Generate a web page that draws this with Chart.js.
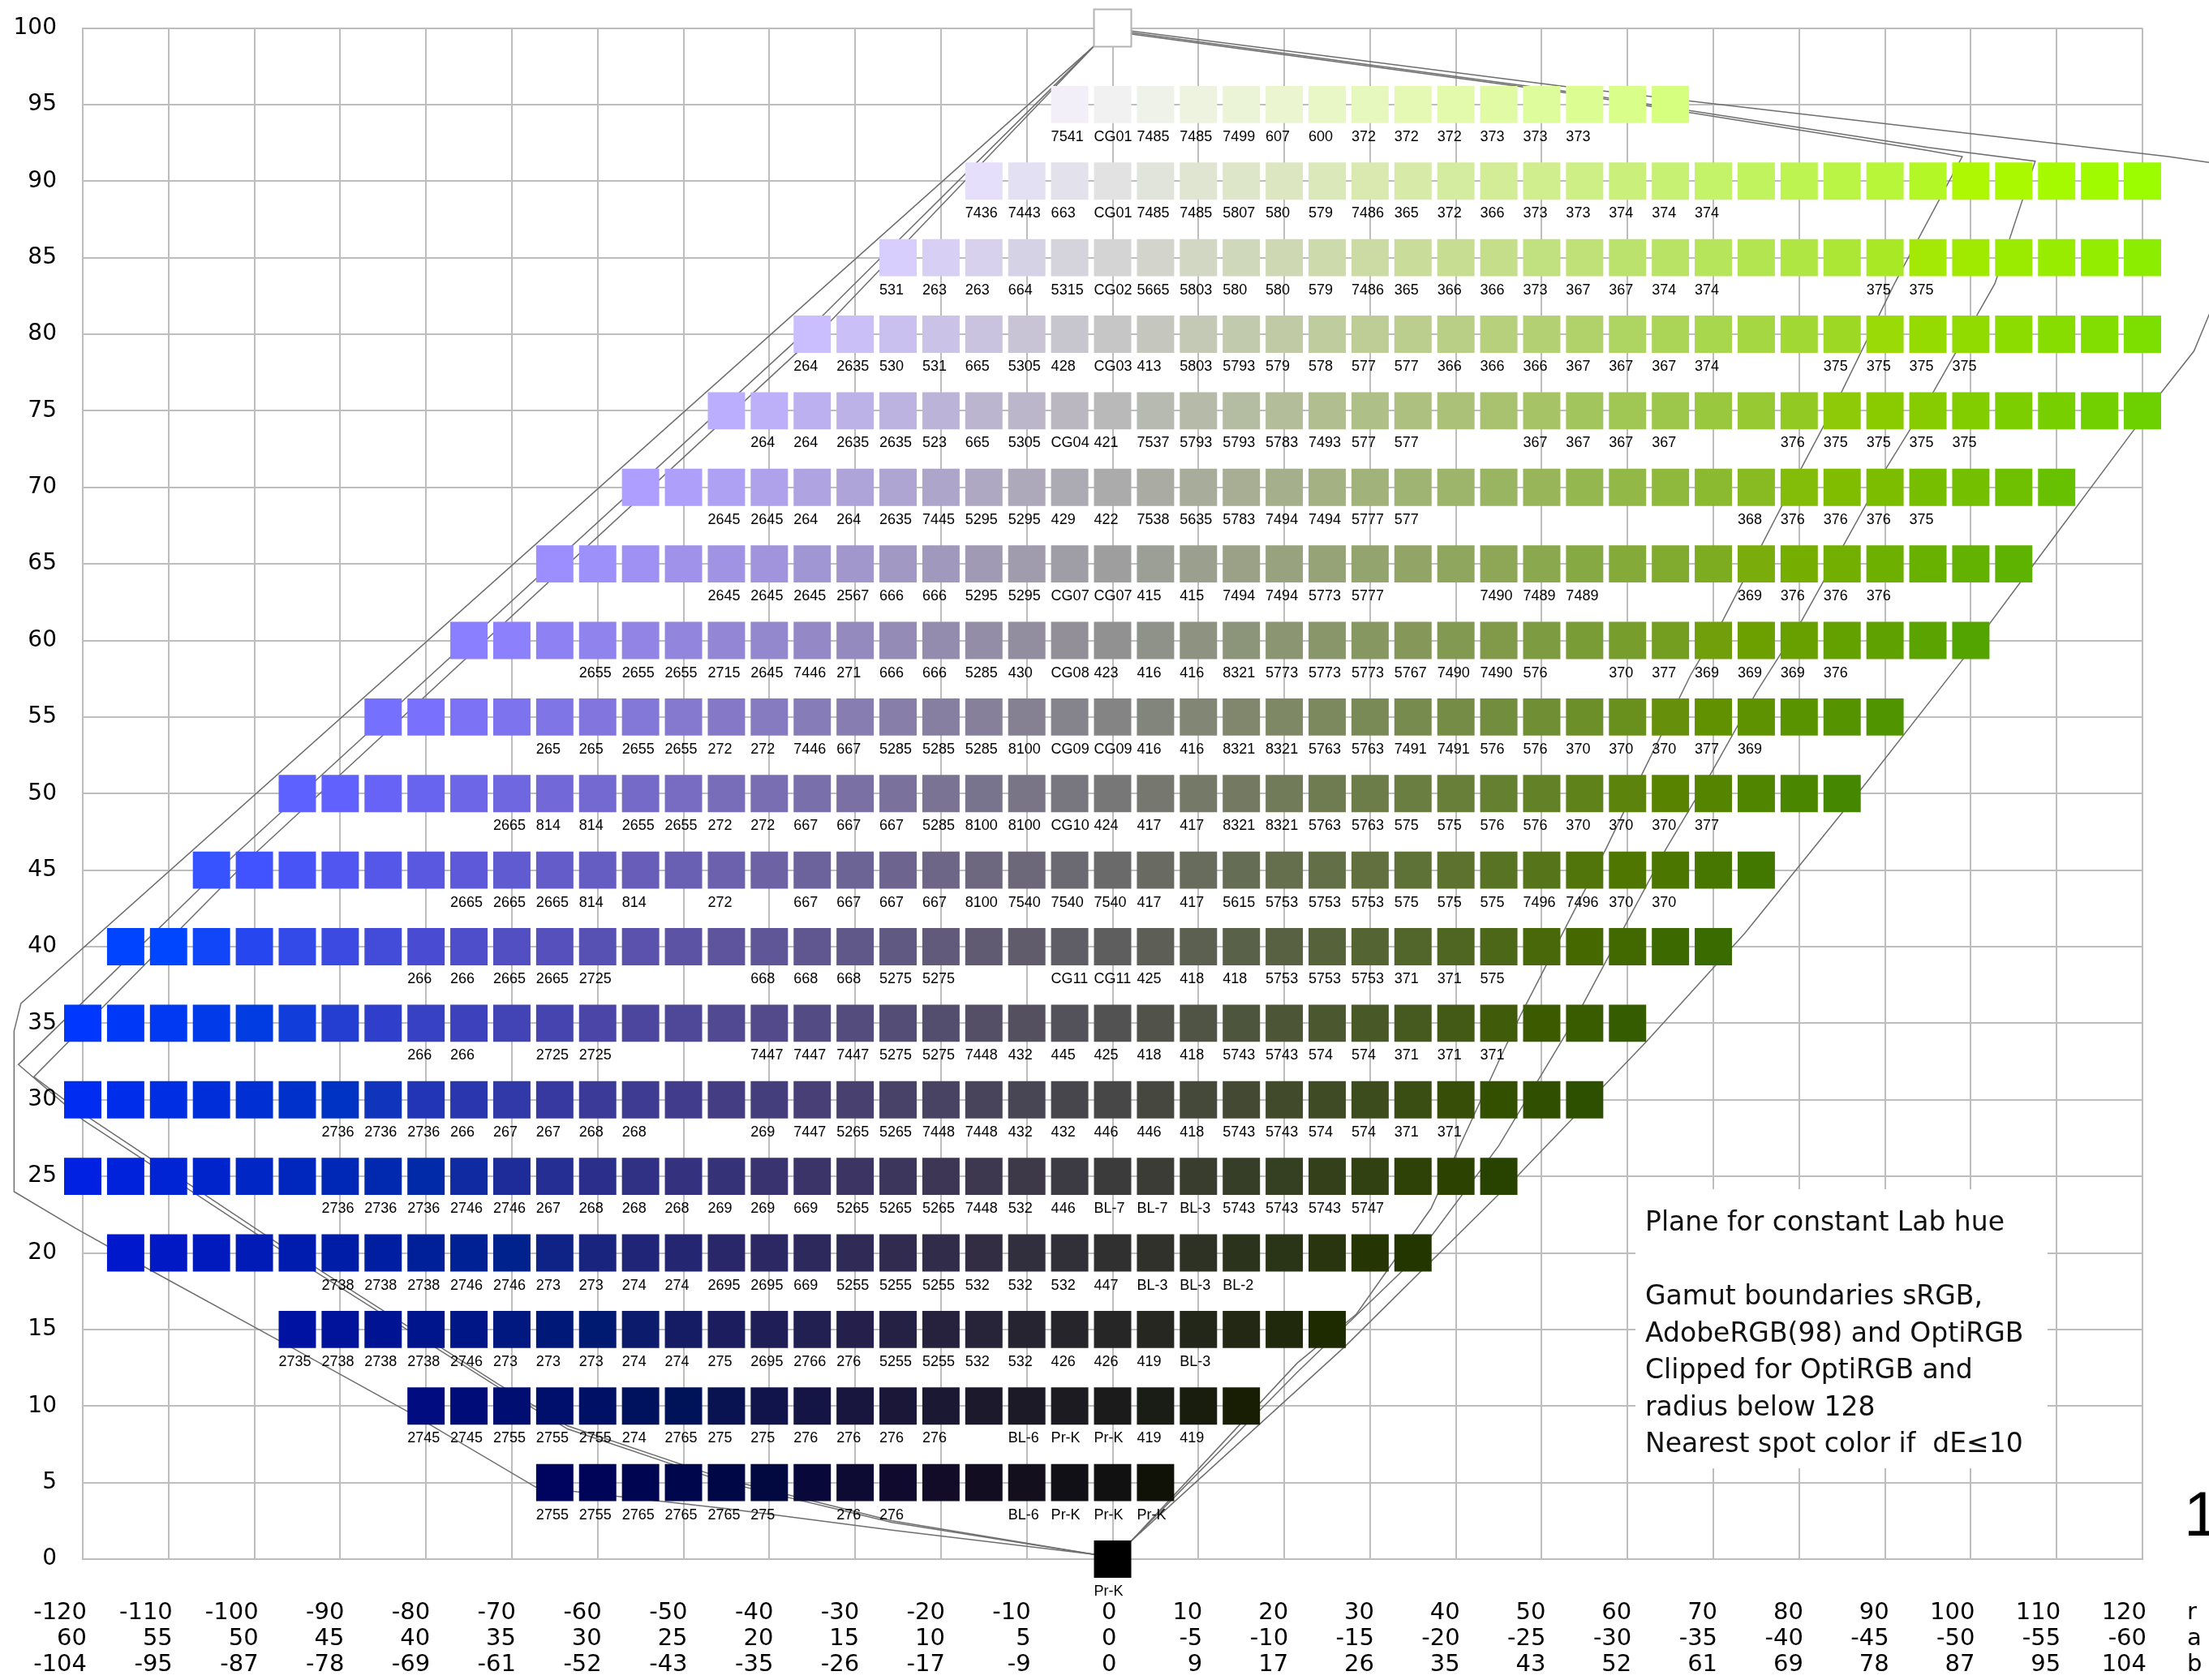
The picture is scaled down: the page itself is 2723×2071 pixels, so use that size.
<!DOCTYPE html>
<html>
<head>
<meta charset="utf-8">
<script src="https://cdn.jsdelivr.net/npm/chart.js@4.4.1/dist/chart.umd.min.js"></script>
<style>
  html,body{margin:0;padding:0;background:#fff}
  #wrap{width:2723px;height:2071px}
</style>
</head>
<body>
<div id="wrap"><canvas id="c" width="2723" height="2071"></canvas></div>
<script>
// ---- rows of the constant-hue plane (L, first and last r of each row) ----
const rowL    = [95, 90, 85, 80, 75, 70, 65, 60, 55, 50, 45, 40, 35, 30, 25, 20, 15, 10, 5];
const rowFrom = [-5,-15,-25,-35,-45,-55,-65,-75,-85,-95,-105,-115,-125,-125,-125,-115,-95,-80,-65];
const rowTo   = [65,125,125,125,120,110,105,100, 90, 85, 75, 70, 60, 55, 45, 35, 25, 15, 5];

// spot colour names under each square, starting at rowFrom ('' = none)
const spot95 = ['7541','CG01','7485','7485','7499','607','600','372','372','372','373','373','373'];
const spot90 = ['7436','7443','663','CG01','7485','7485','5807','580','579','7486','365','372','366','373','373','374','374','374'];
const spot85 = ['531','263','263','664','5315','CG02','5665','5803','580','580','579','7486','365','366','366','373','367','367','374','374','','','','375','375'];
const spot80 = ['264','2635','530','531','665','5305','428','CG03','413','5803','5793','579','578','577','577','366','366','366','367','367','367','374','','','375','375','375','375'];
const spot75 = ['','264','264','2635','2635','523','665','5305','CG04','421','7537','5793','5793','5783','7493','577','577','','','367','367','367','367','','','376','375','375','375','375'];
const spot70 = ['','','2645','2645','264','264','2635','7445','5295','5295','429','422','7538','5635','5783','7494','7494','5777','577','','','','','','','','368','376','376','376','375'];
const spot65 = ['','','','','2645','2645','2645','2567','666','666','5295','5295','CG07','CG07','415','415','7494','7494','5773','5777','','','7490','7489','7489','','','','369','376','376','376'];
const spot60 = ['','','','2655','2655','2655','2715','2645','7446','271','666','666','5285','430','CG08','423','416','416','8321','5773','5773','5773','5767','7490','7490','576','','370','377','369','369','369','376'];
const spot55 = ['','','','','265','265','2655','2655','272','272','7446','667','5285','5285','5285','8100','CG09','CG09','416','416','8321','8321','5763','5763','7491','7491','576','576','370','370','370','377','369'];
const spot50 = ['','','','','','2665','814','814','2655','2655','272','272','667','667','667','5285','8100','8100','CG10','424','417','417','8321','8321','5763','5763','575','575','576','576','370','370','370','377'];
const spot45 = ['','','','','','','2665','2665','2665','814','814','','272','','667','667','667','667','8100','7540','7540','7540','417','417','5615','5753','5753','5753','575','575','575','7496','7496','370','370'];
const spot40 = ['','','','','','','','266','266','2665','2665','2725','','','','668','668','668','5275','5275','','','CG11','CG11','425','418','418','5753','5753','5753','371','371','575'];
const spot35 = ['','','','','','','','','','266','266','','2725','2725','','','','7447','7447','7447','5275','5275','7448','432','445','425','418','418','5743','5743','574','574','371','371','371'];
const spot30 = ['','','','','','','','2736','2736','2736','266','267','267','268','268','','','269','7447','5265','5265','7448','7448','432','432','446','446','418','5743','5743','574','574','371','371'];
const spot25 = ['','','','','','','','2736','2736','2736','2746','2746','267','268','268','268','269','269','669','5265','5265','5265','7448','532','446','BL-7','BL-7','BL-3','5743','5743','5743','5747'];
const spot20 = ['','','','','','2738','2738','2738','2746','2746','273','273','274','274','2695','2695','669','5255','5255','5255','532','532','532','447','BL-3','BL-3','BL-2'];
const spot15 = ['2735','2738','2738','2738','2746','273','273','273','274','274','275','2695','2766','276','5255','5255','532','532','426','426','419','BL-3'];
const spot10 = ['2745','2745','2755','2755','2755','274','2765','275','275','276','276','276','276','','BL-6','Pr-K','Pr-K','419','419'];
const spot05 = ['2755','2755','2765','2765','2765','275','','276','276','','','BL-6','Pr-K','Pr-K','Pr-K'];
const spotRows = [spot95,spot90,spot85,spot80,spot75,spot70,spot65,spot60,spot55,spot50,spot45,spot40,spot35,spot30,spot25,spot20,spot15,spot10,spot05];

// white and black end points on the neutral axis
const endL = [100, 0];
const endR = [0, 0];
const endNames = ['', 'Pr-K'];

// axis tick labels: radius r and the matching Lab a, b
const tickR = ['-120','-110','-100','-90','-80','-70','-60','-50','-40','-30','-20','-10','0','10','20','30','40','50','60','70','80','90','100','110','120'];
const tickA = ['60','55','50','45','40','35','30','25','20','15','10','5','0','-5','-10','-15','-20','-25','-30','-35','-40','-45','-50','-55','-60'];
const tickB = ['-104','-95','-87','-78','-69','-61','-52','-43','-35','-26','-17','-9','0','9','17','26','35','43','52','61','69','78','87','95','104'];
const hueA = -0.5, hueB = 0.8660;   // a = r*hueA, b = r*hueB

// gamut boundary outlines (r, L)
const optiR = [2.2,52.4,123,128,128,126,122.2,119.2,107.5,99.4,87.1,73.7,62.2,47.3,27.1,2.2,-2.1,-25.7,-45,-67.2,-82,-97.2,-112.2,-120.8,-128,-128,-127.2,-2.2];
const optiL = [99.8,96.2,91.6,91.2,81.6,78.9,76.2,73.9,65.1,59,50.2,40.9,33.8,25.1,13.9,1.2,0.3,1.9,3.3,4.7,9.6,14.3,18.9,21.6,24.0,34.5,36.3,98.8];
const adobeR = [2.2,52.4,95,107.5,102.8,95.7,90.2,80.3,75,69.8,64.5,54.2,45,35,21.5,2.2,-2.1,-25.7,-45,-63.5,-71.5,-97.2,-120,-127.5,-102.3,-34.9,-2.2];
const adobeL = [99.7,95.9,92.2,91.3,83.3,76.3,71.3,61.3,56.6,51.4,46.4,35.6,27,19.5,12.2,1.2,0.3,2.4,5.0,8.5,11.2,20.3,28.7,32.3,46,80.6,98.8];
const srgbR = [2.2,52.4,95,99,91.1,85,80.3,71.1,67.4,61.8,57.5,47.6,45.3,37.1,28.4,21.5,2.2,-2.1,-25.7,-45,-63.5,-71.5,-97.2,-120,-125.7,-100.1,-33.3,-2.2];
const srgbL = [99.6,95.8,92.0,91.6,83.3,76.3,71.3,61.3,57.8,51.4,46.4,35.6,32.9,22.9,16.0,12.8,1.2,0.3,2.5,5.2,8.7,11.4,20.6,29.1,31.5,46,80.6,98.8];

const noteLines = ['Plane for constant Lab hue','','Gamut boundaries sRGB,','AdobeRGB(98) and OptiRGB','Clipped for OptiRGB and','radius below 128','Nearest spot color if  dE\u226410'];

// Lab -> clipped sRGB
function labColor(L, a, b) {
  const fy=(L+16)/116, fx=fy+a/500, fz=fy-b/200, e=216/24389, k=24389/27;
  const f3=t=>t*t*t>e?t*t*t:(116*t-16)/k;
  const X=0.95047*f3(fx), Y=L>k*e?fy*fy*fy:L/k, Z=1.08883*f3(fz);
  const lin=[3.2406*X-1.5372*Y-0.4986*Z, -0.9689*X+1.8758*Y+0.0415*Z, 0.0557*X-0.2040*Y+1.0570*Z];
  const g=lin.map(c=>{c=Math.min(1,Math.max(0,c));return Math.round(255*(c<=0.0031308?12.92*c:1.055*Math.pow(c,1/2.4)-0.055));});
  return 'rgb('+g.join(',')+')';
}

const SQ_R = 32.5;                     // rect point radius -> 46px square
const HALF = SQ_R*Math.SQRT1_2;
const pts=[], fills=[], strokes=[], widths=[];
rowL.forEach((L,i)=>{
  for(let r=rowFrom[i]; r<=rowTo[i]; r+=5){
    pts.push({x:r, y:L, name:spotRows[i][(r-rowFrom[i])/5]||''});
    fills.push(labColor(L, r*hueA, r*hueB)); strokes.push('rgba(0,0,0,0)'); widths.push(0);
  }
});
endL.forEach((L,i)=>{
  pts.push({x:endR[i], y:L, name:endNames[i]});
  fills.push(L>50?'#ffffff':'#000000'); strokes.push(L>50?'#b4b4b4':'#000000'); widths.push(L>50?2:0);
});

const lineStyle={showLine:true,pointRadius:0,pointHoverRadius:0,borderColor:'#6e6e6e',borderWidth:1.5,clip:false,tension:0,fill:false};
const toPts=(rs,ls)=>rs.map((r,i)=>({x:r,y:ls[i]}));

const spotLabels={
  id:'spotLabels',
  afterDatasetsDraw(chart){
    const ctx=chart.ctx, meta=chart.getDatasetMeta(0);
    ctx.save();
    ctx.font='18px "Liberation Sans", Arial, sans-serif';
    ctx.fillStyle='#000'; ctx.textAlign='left'; ctx.textBaseline='alphabetic';
    meta.data.forEach((el,j)=>{ if(pts[j].name) ctx.fillText(pts[j].name, el.x-HALF, el.y+45); });
    ctx.restore();
  }
};

const notes={
  id:'notes',
  afterDraw(chart){
    const ctx=chart.ctx;
    ctx.save();
    ctx.fillStyle='#fff'; ctx.fillRect(2016,1466,508,344);
    ctx.fillStyle='#111'; ctx.textAlign='left'; ctx.textBaseline='alphabetic';
    ctx.font='33px "DejaVu Sans", sans-serif';
    noteLines.forEach((t,i)=>{ if(t) ctx.fillText(t, 2028, 1517+i*45.5); });
    // row names of the tick label block
    ctx.font='29px "DejaVu Sans", sans-serif'; ctx.fillStyle='#000'; ctx.textBaseline='middle';
    ['r','a','b'].forEach((t,i)=>ctx.fillText(t, 2696, 1988+i*32));
    ctx.font='78px "Liberation Sans", Arial, sans-serif'; ctx.textBaseline='alphabetic';
    ctx.fillText('1', 2692, 1893);
    ctx.restore();
  }
};

const gridC='#bdbdbd';
new Chart(document.getElementById('c'),{
  type:'scatter',
  data:{datasets:[
    {data:pts,pointStyle:'rect',pointRadius:SQ_R,pointHoverRadius:SQ_R,backgroundColor:fills,borderColor:strokes,borderWidth:widths,clip:false},
    {data:toPts(optiR,optiL),...lineStyle},
    {data:toPts(adobeR,adobeL),...lineStyle},
    {data:toPts(srgbR,srgbL),...lineStyle}
  ]},
  options:{
    responsive:false,animation:false,events:[],
    layout:{padding:{top:33,right:82,left:0,bottom:0}},
    plugins:{legend:{display:false},tooltip:{enabled:false}},
    scales:{
      x:{type:'linear',min:-120,max:120,
        afterFit(s){s.height=149;s.paddingLeft=0;s.paddingRight=0;},
        ticks:{stepSize:10,autoSkip:false,maxRotation:0,align:'end',labelOffset:5,padding:50,color:'#000',
          font:{family:'"DejaVu Sans", sans-serif',size:29,lineHeight:'32px'},
          callback:v=>{const i=Math.round((v+120)/10);return [tickR[i],tickA[i],tickB[i]];}},
        grid:{color:gridC,lineWidth:2,drawTicks:false},
        border:{color:gridC,width:2}},
      y:{type:'linear',min:0,max:100,
        afterFit(s){s.width=102;s.paddingTop=0;s.paddingBottom=0;},
        ticks:{stepSize:5,padding:32,color:'#000',z:1,
          font:{family:'"DejaVu Sans", sans-serif',size:28}},
        grid:{color:gridC,lineWidth:2,drawTicks:false},
        border:{color:gridC,width:2}}
    }
  },
  plugins:[spotLabels,notes]
});
</script>
</body>
</html>
